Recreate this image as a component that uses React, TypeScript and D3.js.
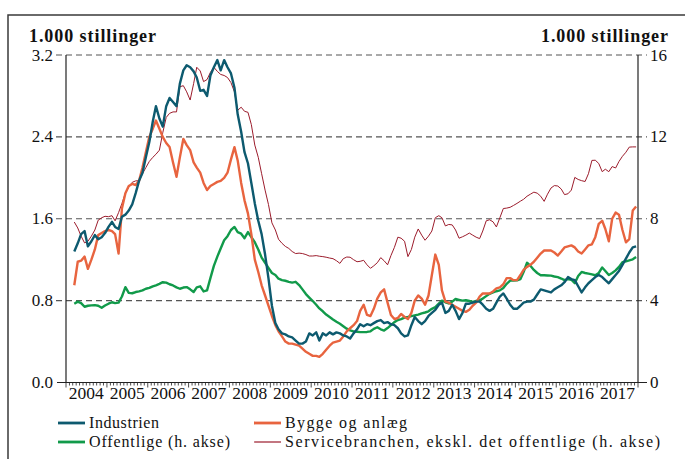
import React from "react";
import * as d3 from "d3";

// Monthly data, March 2004 – December 2017
const startYear = 2004;
const startMonth = 2; // March (0-based)

// Industrien (left axis, 1.000 stillinger)
const industrien = [
  1.28, 1.36, 1.45, 1.48, 1.33, 1.38, 1.44, 1.40, 1.42, 1.46,
  1.52, 1.57, 1.52, 1.50, 1.62, 1.64, 1.68, 1.74, 1.85, 1.97, 2.05, 2.20,
  2.35, 2.55, 2.70, 2.58, 2.50, 2.70, 2.78, 2.74, 2.70, 2.92, 3.05, 3.10,
  3.08, 3.04, 2.98, 2.85, 2.86, 2.80, 3.00, 3.08, 3.15, 3.05, 3.15, 3.08,
  3.02, 2.88, 2.62, 2.45, 2.25, 2.14, 1.95, 1.75, 1.58, 1.45, 1.25, 1.02,
  0.75, 0.58, 0.52, 0.48, 0.47, 0.45, 0.44, 0.41, 0.38, 0.38, 0.40, 0.48,
  0.46, 0.49, 0.41, 0.48, 0.46, 0.49, 0.47, 0.49, 0.48, 0.46, 0.45, 0.43,
  0.48, 0.52, 0.57, 0.55, 0.57, 0.56, 0.58, 0.60, 0.61, 0.58, 0.59, 0.57,
  0.56, 0.53, 0.48, 0.45, 0.46, 0.56, 0.64, 0.60, 0.57, 0.60, 0.65, 0.68,
  0.71, 0.76, 0.78, 0.68, 0.70, 0.76, 0.70, 0.62, 0.68, 0.77, 0.77, 0.78,
  0.79, 0.79, 0.76, 0.72, 0.70, 0.72, 0.78, 0.84, 0.87, 0.82, 0.76, 0.72,
  0.72, 0.75, 0.78, 0.79, 0.79, 0.81, 0.86, 0.91, 0.90, 0.89, 0.88, 0.91,
  0.93, 0.95, 0.98, 1.03, 1.01, 1.00, 0.94, 0.88, 0.93, 0.97, 1.00, 1.03,
  1.05, 1.03, 1.00, 0.97, 1.01, 1.05, 1.09, 1.15, 1.21, 1.27, 1.32, 1.33,
];

// Bygge og anlæg (left axis)
const bygge = [
  0.95, 1.18, 1.19, 1.23, 1.11, 1.20, 1.30, 1.44, 1.46, 1.48,
  1.49, 1.48, 1.45, 1.26, 1.70, 1.85, 1.92, 1.94, 1.93, 1.97, 2.10, 2.25,
  2.40, 2.48, 2.56, 2.48, 2.40, 2.34, 2.30, 2.15, 2.01, 2.20, 2.38, 2.32,
  2.27, 2.15, 2.10, 2.05, 1.95, 1.88, 1.92, 1.94, 1.96, 1.97, 2.00, 2.05,
  2.18, 2.30, 2.17, 1.95, 1.78, 1.65, 1.45, 1.20, 1.08, 0.95, 0.85, 0.75,
  0.65, 0.56, 0.50, 0.45, 0.40, 0.38, 0.38, 0.37, 0.36, 0.33, 0.30, 0.28,
  0.26, 0.26, 0.25, 0.28, 0.32, 0.36, 0.39, 0.40, 0.41, 0.45, 0.50, 0.53,
  0.56, 0.60, 0.70, 0.76, 0.66, 0.65, 0.72, 0.82, 0.88, 0.91, 0.78, 0.66,
  0.62, 0.63, 0.67, 0.64, 0.62, 0.68, 0.80, 0.85, 0.82, 0.76, 0.85, 1.05,
  1.25, 1.15, 0.90, 0.79, 0.78, 0.76, 0.74, 0.72, 0.70, 0.69, 0.71, 0.75,
  0.78, 0.84, 0.87, 0.87, 0.87, 0.89, 0.92, 0.93, 0.96, 1.02, 1.02, 1.00,
  1.00, 1.05, 1.10, 1.13, 1.15, 1.18, 1.22, 1.26, 1.29, 1.29, 1.29, 1.27,
  1.24, 1.28, 1.32, 1.33, 1.34, 1.32, 1.28, 1.26, 1.30, 1.34, 1.35, 1.42,
  1.55, 1.58, 1.50, 1.38, 1.60, 1.66, 1.64, 1.49, 1.37, 1.40, 1.68, 1.72,
];

// Offentlige (right axis)
const offentlige = [
  3.85, 3.95, 3.88, 3.70, 3.75, 3.77, 3.78, 3.75, 3.65, 3.76,
  3.85, 3.92, 3.88, 3.90, 4.20, 4.66, 4.38, 4.36, 4.42, 4.45, 4.50, 4.58,
  4.62, 4.70, 4.75, 4.82, 4.90, 4.88, 4.80, 4.74, 4.65, 4.58, 4.64, 4.66,
  4.55, 4.42, 4.65, 4.70, 4.45, 4.50, 5.10, 5.70, 6.15, 6.55, 6.95, 7.15,
  7.45, 7.60, 7.35, 7.27, 7.05, 7.35, 7.10, 6.85, 6.50, 6.10, 5.85, 5.60,
  5.35, 5.25, 5.07, 5.00, 4.97, 4.92, 4.88, 4.92, 4.76, 4.55, 4.32, 4.15,
  3.98, 3.80, 3.62, 3.48, 3.32, 3.20, 3.08, 2.97, 2.87, 2.75, 2.63, 2.55,
  2.50, 2.48, 2.46, 2.46, 2.47, 2.50, 2.62, 2.70, 2.60, 2.54, 2.66, 2.80,
  2.95, 3.05, 3.10, 3.17, 3.20, 3.24, 3.28, 3.32, 3.38, 3.42, 3.48, 3.60,
  3.68, 3.85, 4.00, 3.92, 3.86, 3.95, 4.08, 4.04, 4.00, 4.02, 3.98, 3.94,
  3.98, 4.02, 4.10, 4.22, 4.33, 4.40, 4.46, 4.50, 4.62, 4.82, 4.98, 4.98,
  4.99, 5.05, 5.40, 5.85, 5.70, 5.50, 5.35, 5.24, 5.24, 5.23, 5.22, 5.18,
  5.15, 5.08, 5.00, 5.05, 5.02, 4.85, 5.20, 5.40, 5.35, 5.32, 5.28, 5.24,
  5.35, 5.62, 5.45, 5.25, 5.35, 5.48, 5.65, 5.88, 5.92, 5.97, 6.02, 6.13,
];

// Servicebranchen, ekskl. det offentlige (right axis)
const service = [
  7.84, 7.55, 7.15, 6.82, 6.90, 7.15, 7.45, 7.93, 8.05, 8.12,
  8.10, 8.15, 7.90, 8.30, 8.75, 9.25, 9.55, 9.78, 9.85, 9.86, 10.20, 10.50,
  10.80, 11.00, 11.15, 11.35, 12.20, 12.95, 13.15, 13.22, 13.22, 14.45, 14.50, 14.20,
  13.80, 14.60, 15.40, 15.22, 14.70, 14.80, 15.15, 15.40, 15.20, 15.05, 15.00, 14.90,
  14.65, 14.20, 13.30, 13.45, 13.25, 13.20, 12.60, 11.60, 11.00, 10.20, 9.40, 8.70,
  7.80, 7.45, 7.00, 6.80, 6.65, 6.55, 6.40, 6.30, 6.32, 6.30, 6.25, 6.18,
  6.18, 6.20, 6.17, 6.15, 6.12, 6.08, 6.05, 5.95, 5.82, 6.05, 6.13, 6.12,
  6.00, 5.90, 5.92, 5.97, 5.75, 5.58, 5.70, 5.85, 6.10, 5.95, 5.75, 6.20,
  6.60, 7.10, 7.05, 6.90, 6.15, 6.50, 7.10, 7.50, 7.20, 6.95, 7.15, 7.40,
  8.05, 8.15, 8.05, 7.65, 7.72, 7.70, 7.45, 7.05, 7.12, 7.20, 7.30, 7.20,
  7.10, 7.03, 7.40, 7.90, 7.95, 7.85, 7.60, 8.05, 8.50, 8.52, 8.56, 8.65,
  8.75, 8.86, 8.95, 9.10, 9.20, 9.30, 9.25, 9.10, 8.85, 9.20, 9.50, 9.62,
  9.60, 9.45, 9.18, 9.22, 9.40, 10.02, 9.92, 9.86, 9.82, 10.20, 10.85, 10.86,
  10.70, 10.30, 10.42, 10.30, 10.55, 10.48, 10.80, 11.05, 11.25, 11.50, 11.51, 11.51,
];

const leftTicks = [0, 0.8, 1.6, 2.4, 3.2];
const rightTicks = [0, 4, 8, 12, 16];
const yearLabels = d3.range(2004, 2018);

const seriesNames = {
  industrien: "Industrien",
  bygge: "Bygge og anlæg",
  offentlige: "Offentlige (h. akse)",
  service: "Servicebranchen, ekskl. det offentlige (h. akse)",
};
const unitLabel = "1.000 stillinger";

const COLORS = {
  industrien: "#0d5a6f",
  bygge: "#e8643f",
  offentlige: "#119a4a",
  service: "#9c1c2c",
};

const FONT = "'Liberation Serif', 'DejaVu Serif', serif";

export default function App() {
  const W = 685;
  const H = 459;
  const left = 66;
  const right = 638;
  const top = 55;
  const bottom = 382.5;

  const x = d3
    .scaleTime()
    .domain([new Date(2004, 0, 1), new Date(2018, 0, 1)])
    .range([left, right]);
  const yL = d3.scaleLinear().domain([0, 3.2]).range([bottom, top]);
  const yR = d3.scaleLinear().domain([0, 16]).range([bottom, top]);

  const dates = industrien.map(
    (_, i) => new Date(startYear, startMonth + i, 15)
  );

  const lineL = d3
    .line<number>()
    .x((_, i) => x(dates[i]))
    .y((d) => yL(d));
  const lineR = d3
    .line<number>()
    .x((_, i) => x(dates[i]))
    .y((d) => yR(d));

  const months = d3.timeMonth.range(
    new Date(2004, 0, 1),
    new Date(2018, 0, 2)
  );

  const legend = [
    { key: "industrien", x0: 58, y: 423, w: 2.8, len: 70 },
    { key: "bygge", x0: 254, y: 423, w: 2.8, len: 122 },
    { key: "offentlige", x0: 58, y: 442, w: 2.8, len: 141 },
    { key: "service", x0: 254, y: 442, w: 1.2, len: 375 },
  ];

  return (
    <div style={{ position: "absolute", left: 0, top: 0 }}>
      <svg width={W} height={H} style={{ display: "block" }}>
        <rect x={0} y={0} width={W} height={H} fill="#fff" />
        {/* frame */}
        <rect
          x={8}
          y={15}
          width={W + 10}
          height={H + 10}
          fill="none"
          stroke="#3a3a3a"
          strokeWidth={1.5}
        />
        {/* unit labels */}
        <text
          x={29}
          y={42}
          fontFamily={FONT}
          fontWeight="bold"
          fontSize={18}
          textLength={127}
          lengthAdjust="spacing"
          fill="#111"
        >
          {unitLabel}
        </text>
        <text
          x={541}
          y={42}
          fontFamily={FONT}
          fontWeight="bold"
          fontSize={18}
          textLength={127}
          lengthAdjust="spacing"
          fill="#111"
        >
          {unitLabel}
        </text>

        {/* gridlines */}
        {leftTicks.slice(1).map((t) => (
          <line
            key={"g" + t}
            x1={56}
            x2={647}
            y1={yL(t)}
            y2={yL(t)}
            stroke="#555"
            strokeWidth={1.2}
            strokeDasharray="6,4"
          />
        ))}

        {/* axes */}
        <line x1={left} x2={left} y1={top} y2={bottom} stroke="#222" strokeWidth={1.2} />
        <line x1={right} x2={right} y1={top} y2={bottom} stroke="#222" strokeWidth={1.2} />
        <line x1={57} x2={647} y1={bottom} y2={bottom} stroke="#222" strokeWidth={1.2} />
        {months.map((m, i) => (
          <line
            key={"mt" + i}
            x1={x(m)}
            x2={x(m)}
            y1={bottom}
            y2={bottom + (m.getMonth() === 0 ? 5 : 3)}
            stroke="#222"
            strokeWidth={0.8}
          />
        ))}

        {/* left tick labels */}
        {leftTicks.map((t) => (
          <text
            key={"lt" + t}
            x={53}
            y={yL(t) + 5.5}
            textAnchor="end"
            fontFamily={FONT}
            fontSize={17}
            fill="#111"
          >
            {d3.format(".1f")(t)}
          </text>
        ))}
        {rightTicks.map((t) => (
          <text
            key={"rt" + t}
            x={650}
            y={yR(t) + 5.5}
            textAnchor="start"
            fontFamily={FONT}
            fontSize={17}
            fill="#111"
          >
            {t}
          </text>
        ))}
        {yearLabels.map((yr) => (
          <text
            key={"y" + yr}
            x={x(new Date(yr, 6, 1))}
            y={399}
            textAnchor="middle"
            fontFamily={FONT}
            fontSize={17.5}
            fill="#111"
          >
            {yr}
          </text>
        ))}

        {/* series */}
        <path d={lineR(service) || ""} fill="none" stroke={COLORS.service} strokeWidth={1} strokeLinejoin="round" />
        <path d={lineR(offentlige) || ""} fill="none" stroke={COLORS.offentlige} strokeWidth={2.4} strokeLinejoin="round" />
        <path d={lineL(bygge) || ""} fill="none" stroke={COLORS.bygge} strokeWidth={2.4} strokeLinejoin="round" />
        <path d={lineL(industrien) || ""} fill="none" stroke={COLORS.industrien} strokeWidth={2.4} strokeLinejoin="round" />

        {/* legend */}
        {legend.map((l) => (
          <g key={"lg" + l.key}>
            <line
              x1={l.x0}
              x2={l.x0 + 27}
              y1={l.y}
              y2={l.y}
              stroke={(COLORS as any)[l.key]}
              strokeWidth={l.w}
            />
            <text
              x={l.x0 + 31}
              y={l.y + 5}
              fontFamily={FONT}
              fontSize={16}
              textLength={l.len}
              lengthAdjust="spacing"
              fill="#111"
            >
              {(seriesNames as any)[l.key]}
            </text>
          </g>
        ))}
      </svg>
    </div>
  );
}
